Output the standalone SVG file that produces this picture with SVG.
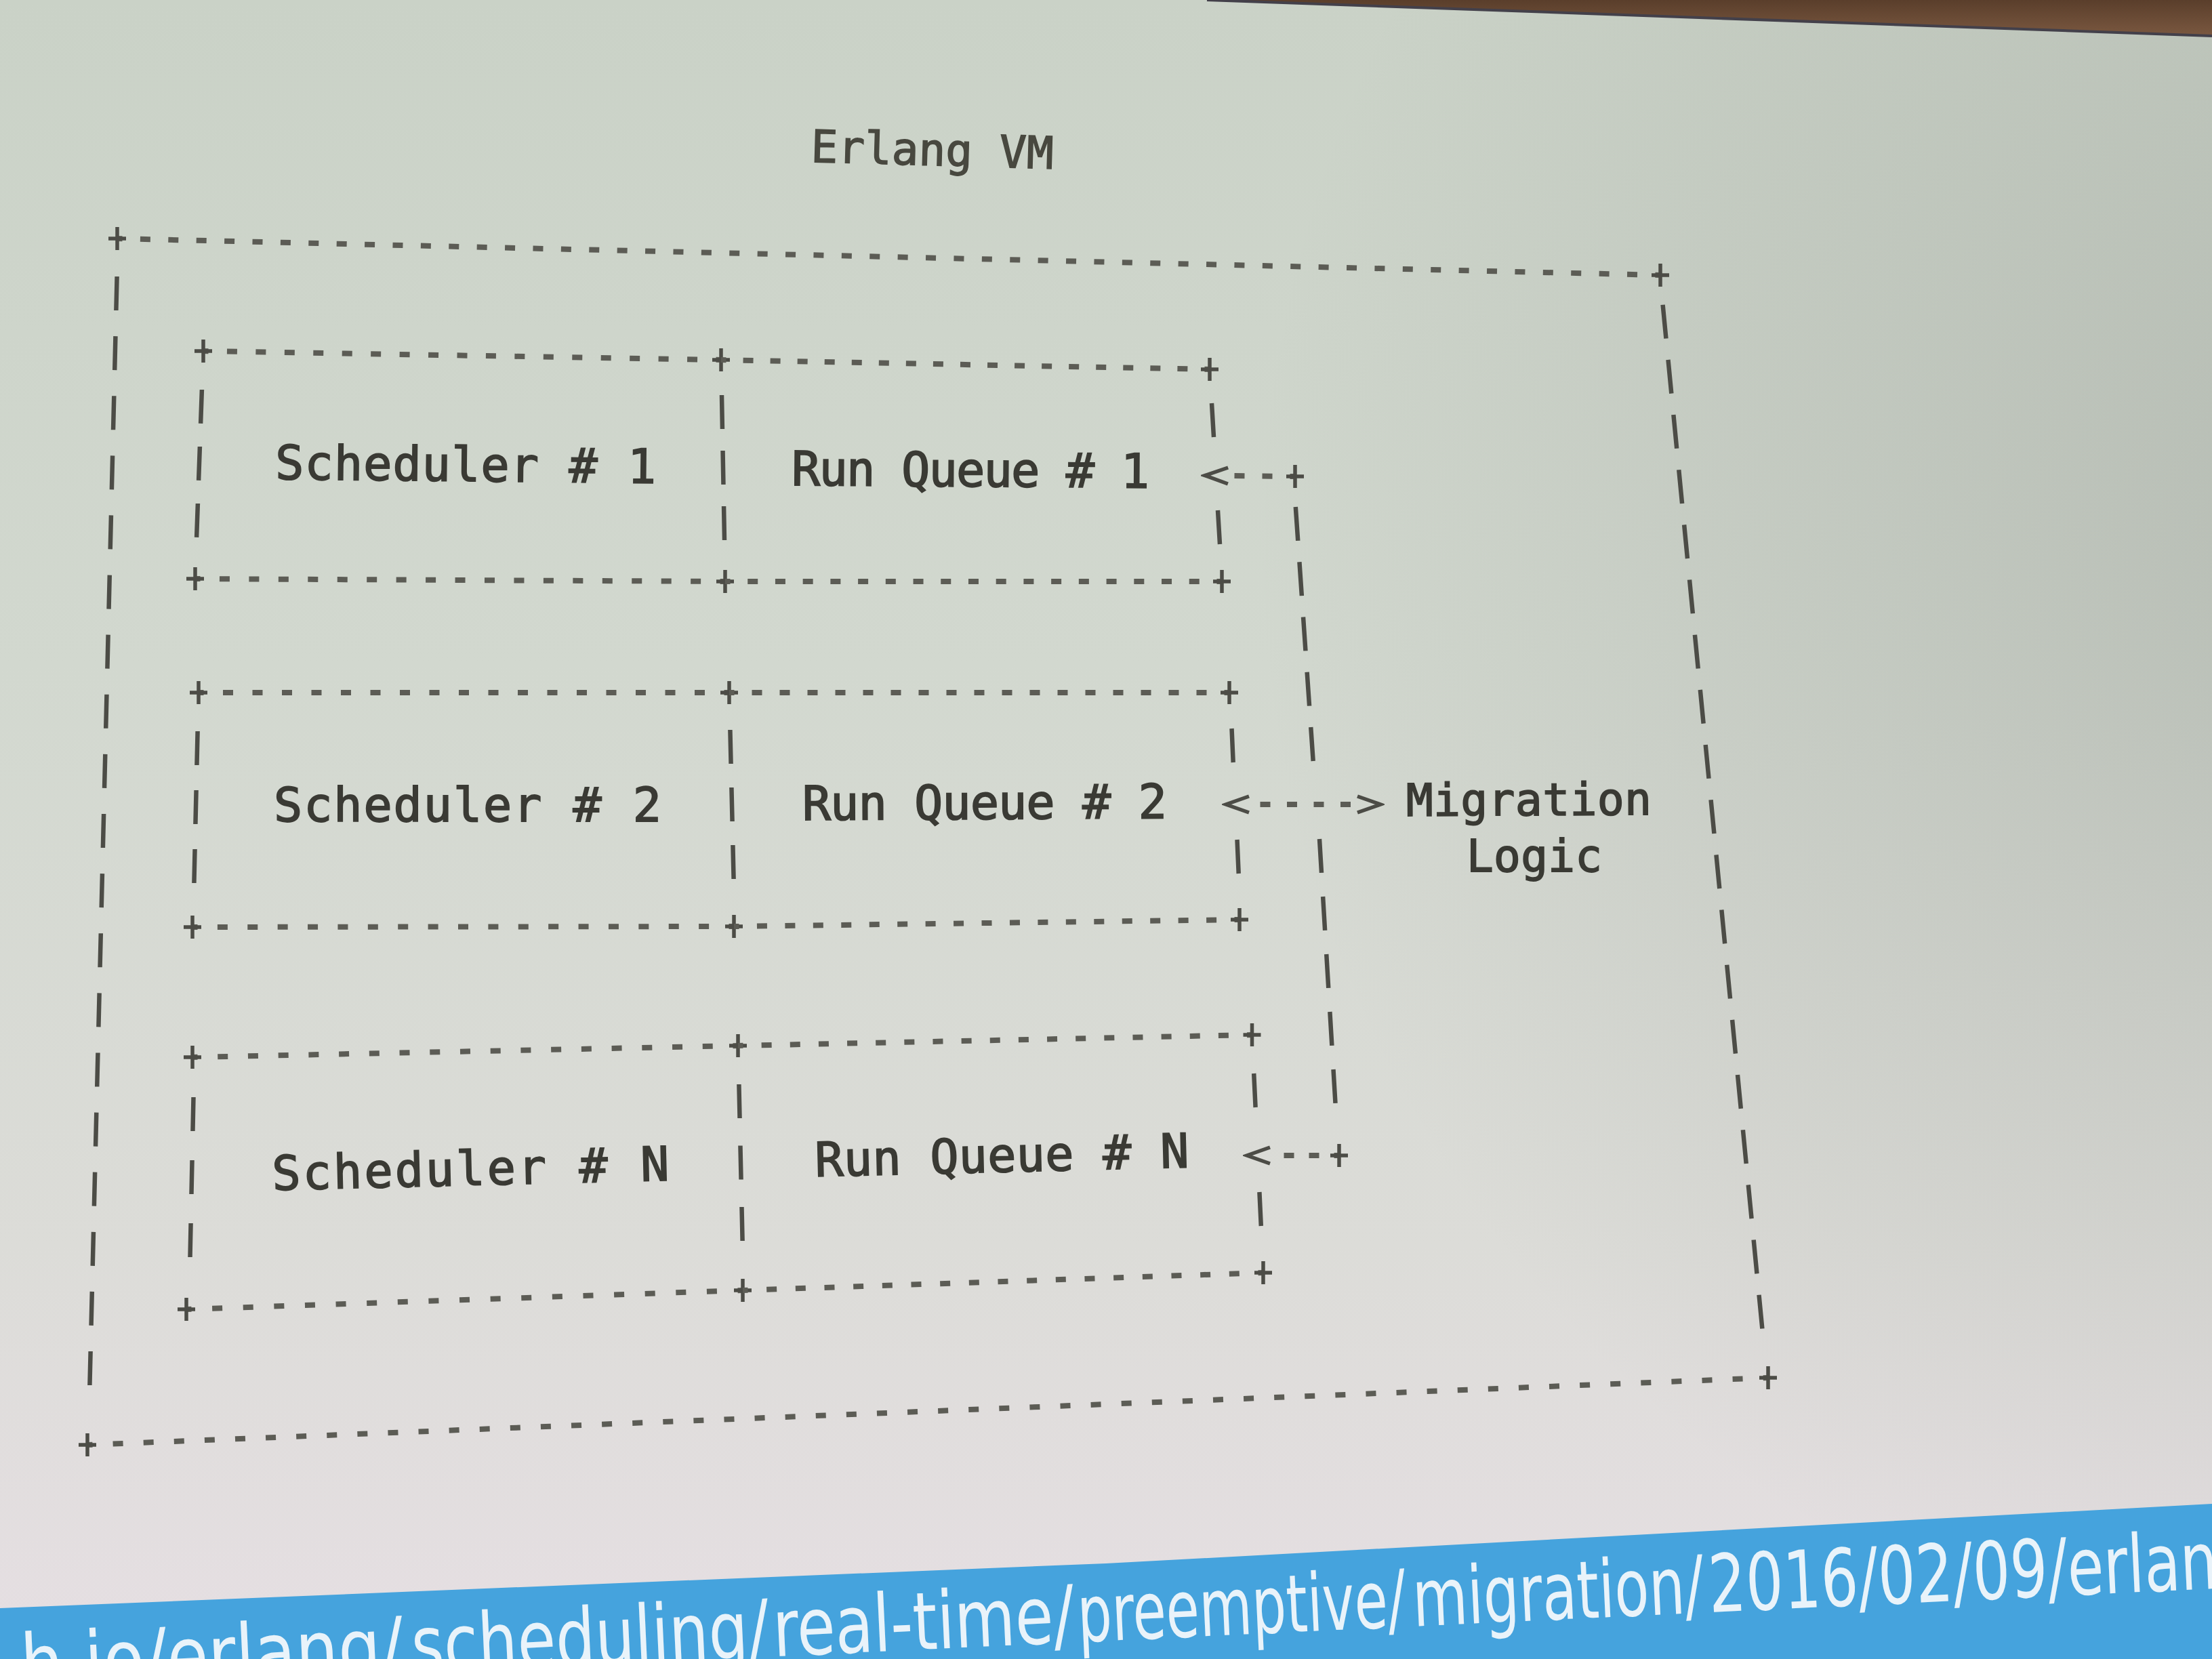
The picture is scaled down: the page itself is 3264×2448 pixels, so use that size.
<svg xmlns="http://www.w3.org/2000/svg" width="3264" height="2448" viewBox="0 0 3264 2448">
<defs>
<style>
.t{font-family:"DejaVu Sans Mono","Liberation Mono",monospace;font-size:70px;fill:#3a3a34;stroke:#3a3a34;stroke-width:1.8}
.h{fill:none;stroke:#5c5c55;stroke-width:8;stroke-dashoffset:7.5}
.v{fill:none;stroke:#4c4c46;stroke-width:6.5}
.pl{fill:none;stroke:#4c4c46;stroke-width:5.5}
.url{font-family:"DejaVu Sans Condensed","DejaVu Sans",sans-serif;font-stretch:condensed;font-size:118px;fill:#e9f3fa}
</style>
<linearGradient id="bg" x1="0" y1="0" x2="0" y2="1">
<stop offset="0" stop-color="#cad2c7"/>
<stop offset="0.4" stop-color="#d2d8cf"/>
<stop offset="0.75" stop-color="#dcdcd8"/>
<stop offset="1" stop-color="#e6dfe3"/>
</linearGradient>
<radialGradient id="shade" gradientUnits="userSpaceOnUse" cx="3550" cy="800" r="1700">
<stop offset="0" stop-color="#70756f" stop-opacity="0.28"/>
<stop offset="1" stop-color="#70756f" stop-opacity="0"/>
</radialGradient>
<linearGradient id="wall" x1="0" y1="0" x2="0" y2="1">
<stop offset="0" stop-color="#5a3e2b"/>
<stop offset="1" stop-color="#7a5840"/>
</linearGradient>
<marker id="chev" markerUnits="userSpaceOnUse" viewBox="-4 -18 44 36" refX="0" refY="0" markerWidth="44" markerHeight="36" orient="auto-start-reverse">
<path d="M0,-12 L34,0 L0,12" fill="none" stroke="#4c4c46" stroke-width="5.5"/>
</marker>
<path id="plus" class="pl" d="M-13,0H13M0,-17V17"/>
</defs>

<rect width="3264" height="2448" fill="url(#bg)"/>
<rect width="3264" height="2448" fill="url(#shade)"/>
<path d="M1781,0 L3264,0 L3264,53 Z" fill="url(#wall)"/>
<path d="M1781,0 L3264,53" fill="none" stroke="#43404a" stroke-width="4"/>

<g id="erlang-vm">
<text class="t" x="1196" y="239" style="font-size:66px;fill:#48483f;stroke:#48483f;stroke-width:1.5" textLength="358" transform="rotate(1.6 1196 239)">Erlang VM</text>
<path class="h" d="M173,352 L2450,406" stroke-dasharray="15 26.41"/>
<path class="h" d="M129,2132 L2609,2033" stroke-dasharray="15 30.13"/>
<path class="v" d="M172.6,408 L132.4,2044" stroke-dasharray="50 38.14"/>
<path class="v" d="M2453.6,449.7 L2600.4,1960.9" stroke-dasharray="50 31.55"/>
<use href="#plus" x="173" y="352"/>
<use href="#plus" x="2450" y="406"/>
<use href="#plus" x="2609" y="2033"/>
<use href="#plus" x="129" y="2132"/>
</g>

<g id="scheduler-1">
<path class="h" d="M300,518 L1064,531" stroke-dasharray="15 27.45"/>
<path class="h" d="M288,854 L1070,858" stroke-dasharray="15 28.45"/>
<path class="v" d="M297.9,575 L290.1,793" stroke-dasharray="50 34.05"/>
<path class="v" d="M1065,583 L1069,797" stroke-dasharray="50 32.01"/>
<use href="#plus" x="300" y="518"/>
<use href="#plus" x="1064" y="531"/>
<use href="#plus" x="288" y="854"/>
<use href="#plus" x="1070" y="858"/>
<text class="t" x="406" y="707" textLength="562" transform="rotate(0.6 406 707)">Scheduler # 1</text>
</g>

<g id="run-queue-1">
<path class="h" d="M1064,531 L1785,545" stroke-dasharray="15 25.06"/>
<path class="h" d="M1070,858 L1803,858" stroke-dasharray="15 25.72"/>
<path class="v" d="M1788,595 L1791,645 M1797,753 L1800,803"/>
<use href="#plus" x="1785" y="545"/>
<use href="#plus" x="1803" y="858"/>
<text class="t" x="1168" y="716" textLength="528" transform="rotate(0.4 1168 716)">Run Queue # 1</text>
</g>

<g id="scheduler-2">
<path class="h" d="M293,1022 L1076,1022" stroke-dasharray="15 28.5"/>
<path class="h" d="M284,1368 L1083,1367" stroke-dasharray="15 29.39"/>
<path class="v" d="M291.6,1079 L286.4,1303" stroke-dasharray="50 37.02"/>
<path class="v" d="M1077.4,1077 L1082.6,1297" stroke-dasharray="50 35.02"/>
<use href="#plus" x="293" y="1022"/>
<use href="#plus" x="1076" y="1022"/>
<use href="#plus" x="284" y="1368"/>
<use href="#plus" x="1083" y="1367"/>
<text class="t" x="404" y="1212" textLength="572">Scheduler # 2</text>
</g>

<g id="run-queue-2">
<path class="h" d="M1076,1022 L1814,1022" stroke-dasharray="15 26"/>
<path class="h" d="M1083,1367 L1829,1357" stroke-dasharray="15 26.45"/>
<path class="v" d="M1817.5,1075 L1819.7,1125 M1825.5,1239 L1827.7,1289"/>
<use href="#plus" x="1814" y="1022"/>
<use href="#plus" x="1829" y="1357"/>
<text class="t" x="1184" y="1210" textLength="538" transform="rotate(-0.3 1184 1210)">Run Queue # 2</text>
</g>

<g id="scheduler-n">
<path class="h" d="M284,1560 L1089,1543" stroke-dasharray="15 29.73"/>
<path class="h" d="M275,1932 L1096,1904" stroke-dasharray="15 30.64"/>
<path class="v" d="M285.5,1619 L280.5,1855" stroke-dasharray="50 43.02"/>
<path class="v" d="M1090.4,1600 L1095.6,1831" stroke-dasharray="50 40.52"/>
<use href="#plus" x="284" y="1560"/>
<use href="#plus" x="1089" y="1543"/>
<use href="#plus" x="275" y="1932"/>
<use href="#plus" x="1096" y="1904"/>
<text class="t" x="402" y="1756" textLength="586" transform="rotate(-1.4 402 1756)">Scheduler # N</text>
</g>

<g id="run-queue-n">
<path class="h" d="M1089,1543 L1847.5,1527" stroke-dasharray="15 27.15"/>
<path class="h" d="M1096,1904 L1864,1878" stroke-dasharray="15 27.69"/>
<path class="v" d="M1850.2,1584 L1852.6,1634 M1858.4,1759 L1860.8,1809"/>
<use href="#plus" x="1847.5" y="1527"/>
<use href="#plus" x="1864" y="1878"/>
<text class="t" x="1203" y="1736" textLength="552" transform="rotate(-1.4 1203 1736)">Run Queue # N</text>
</g>

<g id="migration-logic">
<text class="t" x="2075" y="1204" style="font-size:66px" textLength="362" transform="rotate(-0.3 2075 1204)">Migration</text>
<text class="t" x="2164" y="1286" style="font-size:66px" textLength="200">Logic</text>
</g>

<g id="connectors">
<path class="h" d="M1911,703 L1812,702" stroke-dasharray="15 26" marker-end="url(#chev)"/>
<path class="h" d="M1843,1187 L2003,1187" stroke-dasharray="15 24.5" style="stroke-dashoffset:23" marker-start="url(#chev)" marker-end="url(#chev)"/>
<path class="h" d="M1976,1705 L1874,1705" stroke-dasharray="15 22" marker-end="url(#chev)"/>
<path class="v" d="M1911.8,748 L1937.7,1123" stroke-dasharray="50 31.45"/>
<path class="v" d="M1947,1238 L1970.5,1628" stroke-dasharray="50 35.15"/>
<use href="#plus" x="1911" y="703"/>
<use href="#plus" x="1976" y="1705"/>
</g>

<g id="url-banner">
<path d="M0,2373 L1632,2307 L3264,2219 L3264,2448 L0,2448 Z" fill="#45a3dd"/>
<g transform="rotate(-2.7 1400 2432)">
<text class="url" x="31" y="2432" textLength="565" lengthAdjust="spacingAndGlyphs">h.io/erlang/</text>
<text class="url" x="608" y="2432" textLength="528" lengthAdjust="spacingAndGlyphs">scheduling/</text>
<text class="url" x="1142" y="2432" textLength="445" lengthAdjust="spacingAndGlyphs">real-time/</text>
<text class="url" x="1592" y="2432" textLength="485" lengthAdjust="spacingAndGlyphs">preemptive/</text>
<text class="url" x="2087" y="2432" textLength="430" lengthAdjust="spacingAndGlyphs">migration/</text>
<text class="url" x="2524" y="2432" textLength="752" lengthAdjust="spacingAndGlyphs">2016/02/09/erlan</text>
</g>
</g>
</svg>
